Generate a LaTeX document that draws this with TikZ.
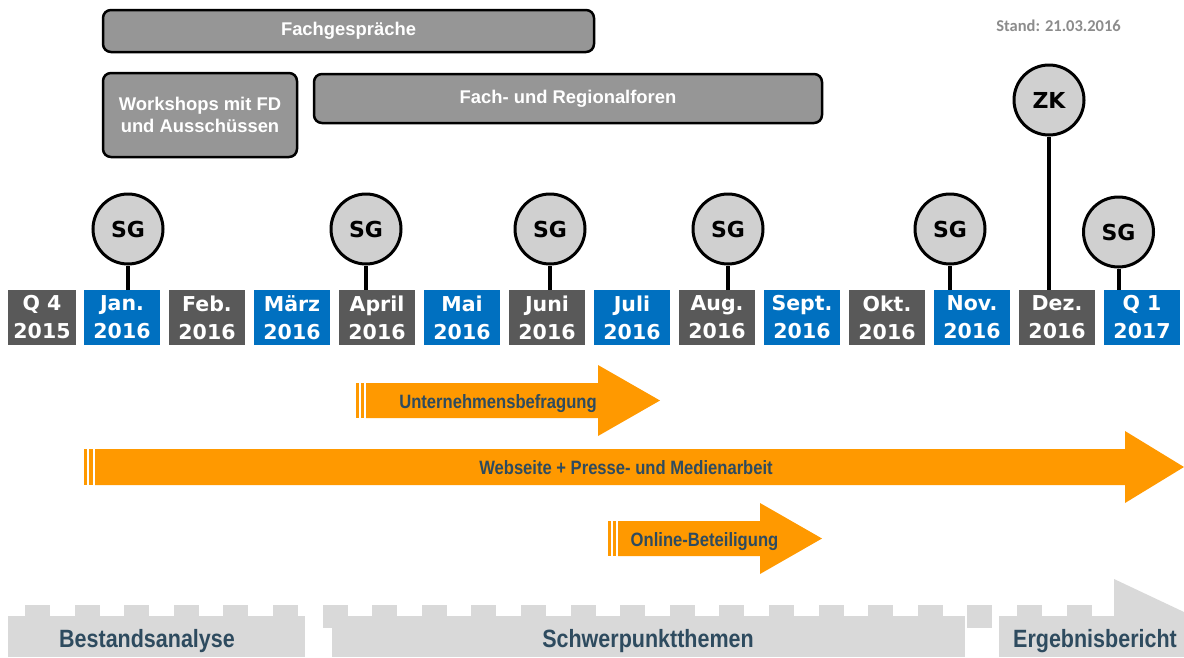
\documentclass[tikz,border=0pt]{standalone}
\usepackage{fontspec}
\setmainfont{Liberation Sans}
\newfontfamily\verdfont{DejaVu Sans}
\newfontfamily\narrowfont[FakeStretch=0.86]{Liberation Sans}
\newfontfamily\carlfont{Carlito}
\definecolor{mblue}{HTML}{0070C0}
\definecolor{mgray}{HTML}{595959}
\definecolor{tgray}{HTML}{969696}
\definecolor{cgray}{HTML}{D0D0D0}
\definecolor{bgray}{HTML}{D9D9D9}
\definecolor{aorange}{HTML}{FF9900}
\definecolor{slate}{HTML}{2E4B5F}
\definecolor{standgray}{HTML}{8C8C8C}
\begin{document}
\begin{tikzpicture}[x=1pt,y=-1pt,
  mbox/.style={draw=none, minimum width=76pt, minimum height=55pt, inner sep=0pt,
    align=center, text=white, font={\verdfont\bfseries\fontsize{20.5}{28}\selectfont},
    execute at begin node={\rule{0pt}{15pt}}},
  mg/.style={mbox, fill=mgray},
  mb/.style={mbox, fill=mblue},
  milestone/.style={circle, draw=black, line width=3pt, fill=cgray, minimum size=70pt,
    inner sep=0pt, font={\verdfont\bfseries\fontsize{22}{25}\selectfont}},
  stick/.style={draw=black, line width=4pt},
  topbox/.style={rounded corners=8pt, draw=black, line width=2.5pt, fill=tgray, text=white,
    inner sep=0pt, align=center, font={\bfseries\fontsize{18.4}{22}\selectfont}},
  atext/.style={text=slate, inner sep=0pt, anchor=base, font={\narrowfont\bfseries\fontsize{19.3}{23}\selectfont}},
  btext/.style={text=slate, inner sep=0pt, anchor=base, font={\narrowfont\bfseries\fontsize{25}{30}\selectfont}},
  arrowfill/.style={fill=aorange},
  band/.style={fill=bgray}
]
\fill[white] (0,0) rectangle (1184,657);
\useasboundingbox (0,0) rectangle (1184,657);

% top boxes
\node[topbox, minimum width=491pt, minimum height=42pt] (fach) at (348.5,31) {Fachgespräche};
\node[topbox, minimum width=194pt, minimum height=84pt] (work) at (200,115) {Workshops mit FD\\und Ausschüssen};
\node[topbox, minimum width=508pt, minimum height=49pt] (forum) at (568,98.5) {Fach- und Regionalforen};

% Stand
\node[text=standgray, inner sep=0pt, anchor=base, font={\carlfont\bfseries\fontsize{16.5}{20}\selectfont}] (stand) at (1058.5,31) {Stand: 21.03.2016};

% month boxes
\node[mg, minimum width=68pt] (q4) at (42,317.5) {Q 4\\2015};
\node[mb] (jan) at (122,317.5) {Jan.\\2016};
\node[mg] (feb) at (207,317.5) {Feb.\\2016};
\node[mb] (mar) at (292,317.5) {März\\2016};
\node[mg] (apr) at (377,317.5) {April\\2016};
\node[mb] (mai) at (462,317.5) {Mai\\2016};
\node[mg] (jun) at (547,317.5) {Juni\\2016};
\node[mb] (jul) at (632,317.5) {Juli\\2016};
\node[mg] (aug) at (717,317.5) {Aug.\\2016};
\node[mb] (sep) at (802,317.5) {Sept.\\2016};
\node[mg] (okt) at (887,317.5) {Okt.\\2016};
\node[mb] (nov) at (972,317.5) {Nov.\\2016};
\node[mg] (dez) at (1057,317.5) {Dez.\\2016};
\node[mb] (q1) at (1142,317.5) {Q 1\\2017};

% milestones
\node[milestone] (sg1) at (128,229) {SG};
\node[milestone] (sg2) at (366,229) {SG};
\node[milestone] (sg3) at (550,229) {SG};
\node[milestone] (sg4) at (728,229) {SG};
\node[milestone] (sg5) at (950,229) {SG};
\node[milestone] (sg6) at (1118.5,232) {SG};
\node[milestone] (zk) at (1049,100) {ZK};

\draw[stick] (sg1) -- (sg1 |- jan.north);
\draw[stick] (sg2) -- (sg2 |- apr.north);
\draw[stick] (sg3) -- (sg3 |- jun.north);
\draw[stick] (sg4) -- (sg4 |- aug.north);
\draw[stick] (sg5) -- (sg5 |- nov.north);
\draw[stick] (sg6) -- (sg6 |- q1.north);
\draw[stick] (zk) -- (zk |- dez.north);

% orange arrows
\fill[arrowfill] (366,383) -- (598,383) -- (598,365) -- (660,400.5) -- (598,436) -- (598,418) -- (366,418) -- cycle;
\fill[arrowfill] (356,383) rectangle (358.5,418);
\fill[arrowfill] (360.5,383) rectangle (364,418);
\node[atext] (unt) at (498,408) {Unternehmensbefragung};

\fill[arrowfill] (95,449) -- (1125,449) -- (1125,431) -- (1184,467) -- (1125,503) -- (1125,485) -- (95,485) -- cycle;
\fill[arrowfill] (84,449) rectangle (86.5,485);
\fill[arrowfill] (88.5,449) rectangle (93,485);
\node[atext] (web) at (626,474) {Webseite + Presse- und Medienarbeit};

\fill[arrowfill] (618,521) -- (760,521) -- (760,503) -- (822,538.5) -- (760,574) -- (760,556) -- (618,556) -- cycle;
\fill[arrowfill] (608,521) rectangle (610.5,556);
\fill[arrowfill] (612.5,521) rectangle (616,556);
\node[atext] (onl) at (704.5,546) {Online-Beteiligung};

% bottom band
\fill[band] (8,616) rectangle (305,657);
\foreach \k in {0,...,5} {
  \fill[band] ({25+49.6*\k},605) rectangle ({50+49.6*\k},616.5);
}
\fill[band] (322.6,605) rectangle (347.6,628);
\fill[band] (332,616) rectangle (965,657);
\foreach \k in {7,...,18} {
  \fill[band] ({25+49.6*\k},605) rectangle ({50+49.6*\k},616.5);
}
\fill[band] (967.4,605) rectangle (992.4,628);
\fill[band] (999,616) rectangle (1184,657);
\fill[band] (1017,605) rectangle (1042,616.5);
\fill[band] (1066.6,605) rectangle (1091.6,616.5);
\fill[band] (1114,616.5) -- (1114,579) -- (1184,612) -- (1184,616.5) -- cycle;

\node[btext] (best) at (147,647) {Bestandsanalyse};
\node[btext] (schw) at (648,647) {Schwerpunktthemen};
\node[btext] (erg) at (1095,647) {Ergebnisbericht};
\end{tikzpicture}
\end{document}
